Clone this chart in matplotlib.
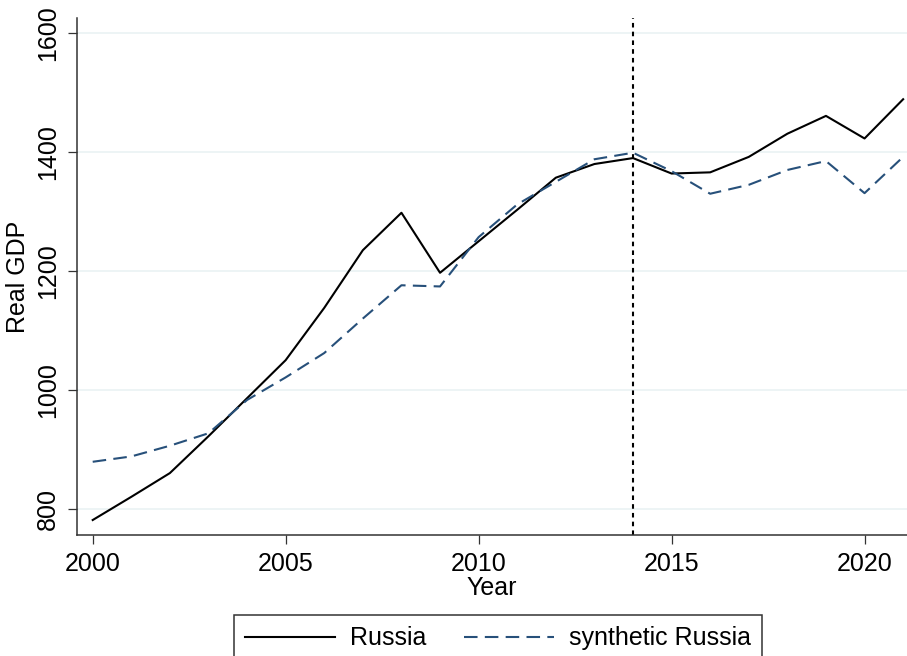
import matplotlib.pyplot as plt

plt.rcParams['font.family'] = ['Liberation Sans', 'DejaVu Sans']

# Real GDP series, 2000-2021
years = list(range(2000, 2022))
russia = [781, 820, 860, 922, 986, 1050, 1138, 1235, 1298, 1197, 1250, 1303,
          1357, 1380, 1390, 1364, 1366, 1392, 1431, 1461, 1423, 1489]
synthetic = [879, 888, 906, 927, 983, 1021, 1062, 1120, 1176, 1174, 1257, 1312,
             1350, 1388, 1399, 1368, 1330, 1345, 1370, 1385, 1331, 1392]
treat_year = 2014
yticks = [800, 1000, 1200, 1400, 1600]
xticks = [2000, 2005, 2010, 2015, 2020]

fig = plt.figure(figsize=(9.07, 6.56), dpi=100)
ax = fig.add_axes([77 / 907, 1 - 535 / 656, 1 - 77 / 907, (535 - 18) / 656])

ax.plot(years, russia, color='black', lw=1.5, label='Russia')
ax.plot(years, synthetic, color='#27507a', lw=1.5, dashes=(6.5, 3.5),
        label='synthetic Russia')
ax.axvline(treat_year, color='black', lw=1.5, dashes=(2.2, 2.0))

ax.set_xlim(1999.593, 2021.1)
ax.set_ylim(755.8, 1625.7)
ax.set_xticks(xticks)
ax.set_yticks(yticks)
ax.set_yticklabels([str(v) for v in yticks], rotation=90, va='center')
ax.grid(axis='y', color='#eaf2f3', lw=1.2)
ax.set_axisbelow(True)

for side in ['top', 'right']:
    ax.spines[side].set_visible(False)
for side in ['left', 'bottom']:
    ax.spines[side].set_color('#333333')
    ax.spines[side].set_linewidth(1.1)
ax.tick_params(axis='both', labelsize=18, length=6.5, width=0.9,
               color='#333333', pad=6)

ax.set_xlabel('Year', fontsize=18, labelpad=0)
ax.set_ylabel('Real GDP', fontsize=18, labelpad=4)

# legend box below the axes, top edge at 615 px
leg = fig.legend(loc='upper left',
                 bbox_to_anchor=(234 / 907, 1 - 625 / 656, (762 - 234) / 907, 10 / 656),
                 mode='expand', ncol=2, fontsize=18, frameon=True, fancybox=False,
                 framealpha=1, handlelength=3.6, handletextpad=0.6, columnspacing=1.6,
                 borderpad=0.45, borderaxespad=0)
leg.get_frame().set_edgecolor('#333333')
leg.get_frame().set_linewidth(1.1)

fig.savefig('out.png', dpi=100)
